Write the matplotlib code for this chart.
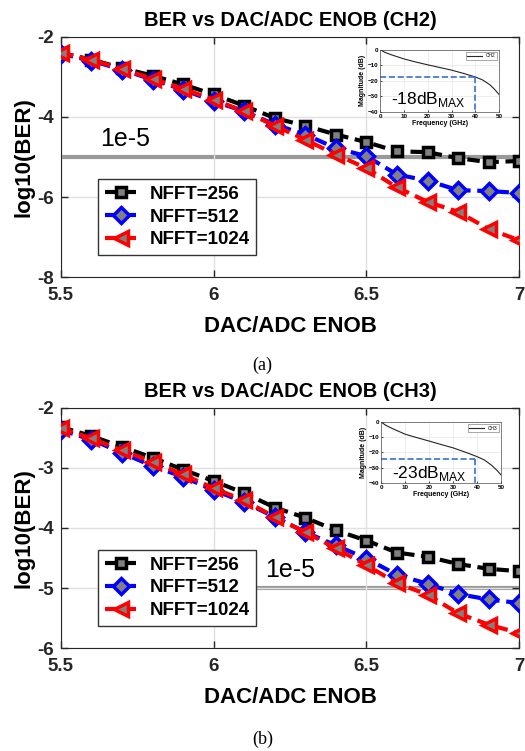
import numpy as np
import matplotlib.pyplot as plt

plt.rcParams['font.family'] = ['Liberation Sans', 'DejaVu Sans']
plt.rcParams['mathtext.fontset'] = 'custom'
plt.rcParams['mathtext.rm'] = 'Liberation Sans'

# ==== Data ====
enob = [5.5, 5.6, 5.7, 5.8, 5.9, 6.0, 6.1, 6.2, 6.3, 6.4, 6.5, 6.6, 6.7, 6.8, 6.9, 7.0]
labels = ['NFFT=256', 'NFFT=512', 'NFFT=1024']

ch2_256 = [-2.40, -2.57, -2.78, -2.97, -3.19, -3.44, -3.72, -4.03, -4.22, -4.44, -4.63, -4.86, -4.88, -5.03, -5.13, -5.10]
ch2_512 = [-2.42, -2.60, -2.82, -3.07, -3.32, -3.61, -3.86, -4.19, -4.44, -4.78, -4.98, -5.44, -5.59, -5.83, -5.85, -5.90]
ch2_1024 = [-2.40, -2.58, -2.80, -3.05, -3.30, -3.57, -3.86, -4.22, -4.57, -4.94, -5.28, -5.76, -6.12, -6.37, -6.80, -7.08]

ch3_256 = [-2.32, -2.47, -2.65, -2.83, -3.03, -3.22, -3.42, -3.66, -3.83, -4.04, -4.21, -4.41, -4.48, -4.60, -4.68, -4.72]
ch3_512 = [-2.37, -2.53, -2.75, -2.97, -3.15, -3.37, -3.57, -3.82, -4.07, -4.29, -4.51, -4.78, -4.93, -5.10, -5.19, -5.25]
ch3_1024 = [-2.34, -2.51, -2.71, -2.90, -3.11, -3.34, -3.54, -3.82, -4.07, -4.34, -4.62, -4.92, -5.11, -5.42, -5.61, -5.75]

# channel responses for the insets
freq = [0, 2, 5, 10, 15, 20, 25, 30, 35, 40, 43, 46, 48, 50]
mag_ch2 = [0, -1.8, -3.5, -6.0, -8.0, -9.8, -11.5, -13.2, -15.3, -17.6, -19.5, -22.5, -25.5, -29.0]
mag_ch3 = [0, -2.2, -4.5, -8.0, -10.3, -12.5, -14.8, -17.0, -19.8, -22.8, -25.0, -28.5, -31.5, -35.0]

colors = ['black', 'blue', 'red']
markers = ['s', 'D', '<']
msizes = [7, 8.5, 10]


def draw_panel(rect, title, series, ylim, yticks, ref_x0, txt_xy, inset_rect, f, mag, ch, db, cut_db, cut_f, txt_y):
    ax = fig.add_axes(rect)
    ax.axhline(-5, xmin=(ref_x0 - 5.5) / 1.5, xmax=1, color='0.6', lw=3, zorder=1)
    for y, c, m, ms, lab in zip(series, colors, markers, msizes, labels):
        ax.plot(enob, y, ls=(0, (3, 1.6)), lw=3, color=c, marker=m, ms=ms,
                mfc='0.5', mec=c, mew=2.5, label=lab, zorder=3)
    ax.text(txt_xy[0], txt_xy[1], '1e-5', fontsize=18, va='center')
    ax.set_xlim(5.5, 7)
    ax.set_ylim(*ylim)
    ax.set_xticks([5.5, 6, 6.5, 7])
    ax.set_xticklabels(['5.5', '6', '6.5', '7'])
    ax.set_yticks(yticks)
    ax.set_yticklabels([str(t) for t in yticks])
    ax.grid(True, color='0.88', lw=1)
    ax.tick_params(direction='in', top=True, right=True, labelsize=13.5, length=5, width=1, colors='0.15')
    ax.tick_params(axis='x', pad=7)
    ax.tick_params(axis='y', pad=5)
    for lbl in ax.get_xticklabels() + ax.get_yticklabels():
        lbl.set_fontweight('bold')
    for s in ax.spines.values():
        s.set_color('0.15')
    ax.set_title(title, fontsize=14.5, fontweight='bold', pad=8)
    ax.set_xlabel('DAC/ADC ENOB', fontsize=16, fontweight='bold', labelpad=9)
    ax.set_ylabel('log10(BER)', fontsize=16, fontweight='bold', labelpad=2)
    leg = ax.legend(loc='upper left', bbox_to_anchor=(0.081, 0.408), borderaxespad=0,
                    prop={'weight': 'bold', 'size': 13.5}, fancybox=False, framealpha=1,
                    edgecolor='0.2', handlelength=1.7, handletextpad=0.7, borderpad=0.35,
                    labelspacing=0.3)
    leg.get_frame().set_linewidth(1)

    # channel response inset
    ins = fig.add_axes(inset_rect)
    ins.plot(f, mag, color='0.15', lw=0.8, label=ch)
    ins.plot([0, cut_f], [cut_db, cut_db], color='#3a6fd8', ls='--', lw=1.2)
    ins.plot([cut_f, cut_f], [cut_db, -40], color='#3a6fd8', ls='--', lw=1.2)
    ins.text(4.5, txt_y, '%ddB$_{\\mathregular{MAX}}$' % db, fontsize=12.5, va='center')
    ins.set_xlim(0, 50)
    ins.set_ylim(-40, 0)
    ins.set_xticks([0, 10, 20, 30, 40, 50])
    ins.set_yticks([-40, -30, -20, -10, 0])
    ins.grid(True, color='0.9', lw=0.5)
    ins.tick_params(direction='in', labelsize=4.5, length=1.5, width=0.5, pad=1.5)
    for lbl in ins.get_xticklabels() + ins.get_yticklabels():
        lbl.set_fontweight('bold')
    for s in ins.spines.values():
        s.set_linewidth(0.5)
        s.set_color('0.3')
    ins.set_xlabel('Frequency (GHz)', fontsize=5, fontweight='bold', labelpad=1)
    ins.set_ylabel('Magnitude (dB)', fontsize=5, fontweight='bold', labelpad=1)
    il = ins.legend(loc='upper right', fontsize=3.5, fancybox=False, edgecolor='0.4',
                    handlelength=3, borderpad=0.3, framealpha=1)
    il.get_frame().set_linewidth(0.4)
    return ax


fig = plt.figure(figsize=(5.25, 7.51), dpi=100)

draw_panel([0.116, 0.631, 0.873, 0.320], 'BER vs DAC/ADC ENOB (CH2)',
           [ch2_256, ch2_512, ch2_1024], (-8, -2), [-8, -6, -4, -2], 5.5, (5.63, -4.55),
           [0.724, 0.851, 0.227, 0.083], freq, mag_ch2, 'CH2', -18, -17.8, 40, -32)
draw_panel([0.116, 0.137, 0.873, 0.320], 'BER vs DAC/ADC ENOB (CH3)',
           [ch3_256, ch3_512, ch3_1024], (-6, -2), [-6, -5, -4, -3, -2], 6.145, (6.17, -4.7),
           [0.726, 0.357, 0.229, 0.081], freq, mag_ch3, 'CH3', -23, -24, 39, -34)

fig.text(0.5, 0.514, '(a)', fontsize=13, family='Liberation Serif', ha='center', va='center')
fig.text(0.5, 0.015, '(b)', fontsize=13, family='Liberation Serif', ha='center', va='center')

fig.savefig('out.png', dpi=100)
